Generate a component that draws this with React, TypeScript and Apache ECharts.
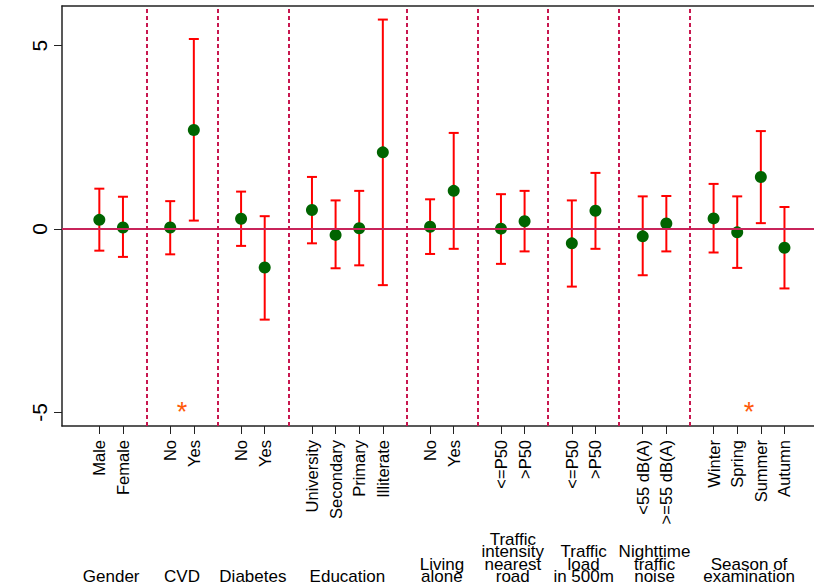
import React, { useEffect, useRef } from "react";
import * as echarts from "echarts";

// ---- data ----
const categoryPositions = [1, 2, 4, 5, 7, 8, 10, 11, 12, 13, 15, 16, 18, 19, 21, 22, 24, 25, 27, 28, 29, 30];
const categoryLabels = [
  "Male", "Female", "No", "Yes", "No", "Yes",
  "University", "Secondary", "Primary", "Illiterate",
  "No", "Yes", "<=P50", ">P50", "<=P50", ">P50",
  "<55 dB(A)", ">=55 dB(A)", "Winter", "Spring", "Summer", "Autumn",
];
const estimates = [0.25, 0.04, 0.04, 2.70, 0.28, -1.05, 0.52, -0.16, 0.02, 2.09, 0.06, 1.04, 0.01, 0.21, -0.39, 0.50, -0.20, 0.15, 0.29, -0.09, 1.42, -0.51];
const lowerCI = [-0.59, -0.76, -0.69, 0.23, -0.46, -2.47, -0.39, -1.07, -0.99, -1.53, -0.68, -0.54, -0.95, -0.61, -1.57, -0.54, -1.26, -0.61, -0.64, -1.06, 0.16, -1.62];
const upperCI = [1.10, 0.88, 0.76, 5.18, 1.02, 0.35, 1.42, 0.78, 1.04, 5.71, 0.81, 2.62, 0.95, 1.04, 0.78, 1.53, 0.89, 0.90, 1.23, 0.89, 2.67, 0.60];
const groupCenters = [1.5, 4.5, 7.5, 11.5, 15.5, 18.5, 21.5, 24.5, 28.5];
const groupLabels = [
  "Gender", "CVD", "Diabetes", "Education", "Living\nalone",
  "Traffic\nintensity\nnearest\nroad", "Traffic\nload\nin 500m",
  "Nighttime\ntraffic\nnoise", "Season of\nexamination",
];
const dividers = [3, 6, 9, 14, 17, 20, 23, 26];
const significantPositions = [4.5, 28.5];
const significantY = -5.0;
const yTicks = [-5, 0, 5];

const FONT = "'Liberation Sans', Arial, Helvetica, sans-serif";

export default function App() {
  const ref = useRef<HTMLDivElement>(null);
  useEffect(() => {
    if (!ref.current) return;
    const chart = echarts.init(ref.current, undefined, { renderer: "svg" });
    const labelMap: Record<string, string> = {};
    categoryPositions.forEach((p, i) => (labelMap[String(p)] = categoryLabels[i]));
    const groupMap: Record<string, string> = {};
    groupCenters.forEach((p, i) => (groupMap[String(p)] = groupLabels[i]));

    const xMin = -0.58;
    const xMax = 31.25;

    chart.setOption({
      animation: false,
      backgroundColor: "#ffffff",
      grid: { left: 62, top: 6, right: 0, bottom: 161, containLabel: false },
      xAxis: [
        {
          type: "value",
          min: xMin,
          max: xMax,
          position: "bottom",
          axisLine: { show: true, onZero: false, lineStyle: { color: "#222", width: 1.5 } },
          axisTick: { show: true, length: 8, customValues: categoryPositions, lineStyle: { color: "#222", width: 1 } },
          splitLine: { show: false },
          axisLabel: {
            customValues: categoryPositions,
            rotate: 90,
            margin: 14,
            fontSize: 16.5,
            fontFamily: FONT,
            color: "#000",
            formatter: (v: number) => labelMap[String(v)] ?? "",
          },
        },
        {
          type: "value",
          min: xMin,
          max: xMax,
          position: "bottom",
          axisLine: { show: false, onZero: false },
          axisTick: { show: false },
          splitLine: { show: false },
          axisLabel: {
            customValues: groupCenters,
            margin: 157,
            fontSize: 17,
            lineHeight: 12.5,
            verticalAlign: "bottom",
            fontFamily: FONT,
            color: "#000",
            formatter: (v: number) => groupMap[String(v)] ?? "",
          },
        },
        {
          type: "value",
          min: xMin,
          max: xMax,
          position: "top",
          axisLine: { show: true, onZero: false, lineStyle: { color: "#222", width: 1.5 } },
          axisTick: { show: false },
          axisLabel: { show: false },
          splitLine: { show: false },
        },
      ],
      yAxis: {
        type: "value",
        min: -5.37,
        max: 6.08,
        axisLine: { show: true, onZero: false, lineStyle: { color: "#222", width: 1.5 } },
        axisTick: { show: true, length: 8, customValues: yTicks, lineStyle: { color: "#222", width: 1 } },
        splitLine: { show: false },
        axisLabel: {
          customValues: yTicks,
          rotate: 90,
          margin: 12,
          fontSize: 21,
          fontFamily: FONT,
          color: "#000",
        },
      },
      series: [
        {
          type: "scatter",
          xAxisIndex: 0,
          data: significantPositions.map((p) => [p, significantY]),
          symbolSize: 1,
          itemStyle: { color: "rgba(0,0,0,0)", opacity: 1 },
          label: {
            show: true,
            position: "inside",
            formatter: "*",
            color: "#FF5A0A",
            fontSize: 27,
            fontFamily: FONT,
          },
          z: 1,
          markLine: {
            silent: true,
            symbol: ["none", "none"],
            label: { show: false },
            data: [
              { yAxis: 0, lineStyle: { color: "#C8245A", width: 2, type: "solid", opacity: 1 } },
              ...dividers.map((d) => ({
                xAxis: d,
                lineStyle: { color: "#C8174F", width: 2, type: [4, 3], opacity: 1 },
              })),
            ],
          },
        },
        {
          type: "custom",
          xAxisIndex: 0,
          z: 3,
          encode: { x: 0, y: [1, 2] },
          data: categoryPositions.map((p, i) => [p, lowerCI[i], upperCI[i]]),
          renderItem: (params: any, api: any) => {
            const x = api.value(0);
            const lo = api.coord([x, api.value(1)]);
            const hi = api.coord([x, api.value(2)]);
            const w = 5;
            const style = { stroke: "#FF0000", lineWidth: 2 };
            return {
              type: "group",
              children: [
                { type: "line", shape: { x1: lo[0], y1: lo[1], x2: hi[0], y2: hi[1] }, style },
                { type: "line", shape: { x1: lo[0] - w, y1: lo[1], x2: lo[0] + w, y2: lo[1] }, style },
                { type: "line", shape: { x1: hi[0] - w, y1: hi[1], x2: hi[0] + w, y2: hi[1] }, style },
              ],
            };
          },
        },
        {
          type: "scatter",
          xAxisIndex: 0,
          z: 4,
          symbol: "circle",
          symbolSize: 12,
          itemStyle: { color: "#006400", opacity: 1 },
          data: categoryPositions.map((p, i) => [p, estimates[i]]),
        },
      ],
    });
    return () => chart.dispose();
  }, []);
  return (
    <div
      ref={ref}
      style={{ position: "fixed", left: 0, top: 0, width: 814, height: 587, background: "#fff" }}
    />
  );
}
